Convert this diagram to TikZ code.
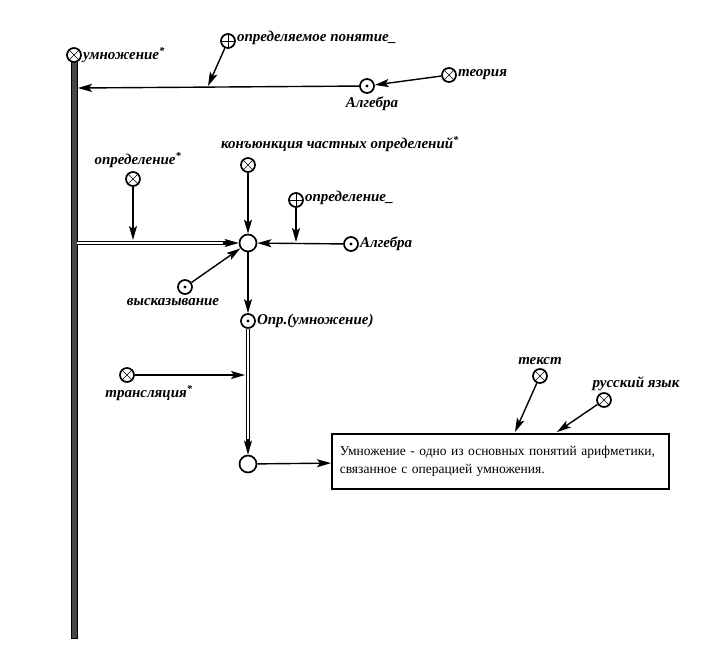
\documentclass[tikz,border=0pt]{standalone}
\usepackage{fontspec}
\setmainfont{Liberation Serif}
\usetikzlibrary{arrows.meta}
\tikzset{
  pt/.style={circle, draw, line width=1.7pt, minimum size=14pt, inner sep=0pt, fill=white},
  cr/.style={pt, path picture={\draw[line width=0.6pt] (path picture bounding box.south west) -- (path picture bounding box.north east) (path picture bounding box.north west) -- (path picture bounding box.south east);}},
  pl/.style={pt, path picture={\draw[line width=0.9pt] (path picture bounding box.north) -- (path picture bounding box.south) (path picture bounding box.west) -- (path picture bounding box.east);}},
  dt/.style={pt, path picture={\fill[black] (path picture bounding box.center) circle (1.6pt);}},
  emp/.style={pt, minimum size=17pt},
  lbl/.style={font=\fontsize{15}{17}\selectfont\bfseries\itshape, inner sep=1pt},
  arr/.style={line width=1.4pt, -{Stealth[length=14pt, width=8pt, inset=3pt]}},
  dbl/.style={double, double distance=2pt, line width=1.2pt, shorten >=12pt},
}
\begin{document}
\begin{tikzpicture}[x=1pt, y=-1pt]
    \useasboundingbox (0,0) rectangle (706,658);
    % The thick bar on the left
    \filldraw[fill=black!72, line width=0.6pt] (71,58) rectangle (77,638);
    \coordinate (b1) at (78,88);
    \coordinate (b2) at (77,243);

    % Top row
    \node[cr, label={[lbl]right:умножение\textsuperscript{*}}] (umn) at (74,55) {};
    \node[pl, label={[lbl, yshift=3pt]right:определяемое понятие\_}] (opp) at (228,41) {};
    \node[dt, label={[lbl, xshift=5pt, yshift=-2pt]below:Алгебра}] (alg1) at (367,86) {};
    \node[cr, label={[lbl]right:теория}] (teo) at (449,75) {};
    \coordinate (m1) at (208,86);

    \draw[arr] (alg1) -- (b1);
    \draw[arr] (opp) -- (m1);
    \draw[arr] (teo) -- (alg1);

    % Middle: the definition node
    \node[emp] (cen) at (248,243) {};
    \node[cr, label={[lbl, xshift=92pt, yshift=4pt]above:конъюнкция частных определений\textsuperscript{*}}] (kon) at (248,165) {};
    \node[cr, label={[lbl, xshift=5pt, yshift=2pt]above:определение\textsuperscript{*}}] (def1) at (133,179) {};
    \node[pl, label={[lbl, yshift=2pt]right:определение\_}] (def2) at (296,200) {};
    \node[dt, label={[lbl]right:Алгебра}] (alg2) at (351,244) {};
    \node[dt, label={[lbl, xshift=-12pt, yshift=-2pt]below:высказывание}] (vys) at (185,287) {};
    \node[dt, label={[lbl]right:Опр.(умножение)}] (opr) at (248,321) {};
    \coordinate (m2) at (133,240);
    \coordinate (m3) at (296,242);

    \draw[dbl] (b2) -- (cen);
    \draw[arr] ([xshift=-16pt]cen.west) -- (cen.west);
    \draw[arr] (def1) -- (m2);
    \draw[arr] (kon) -- (cen);
    \draw[arr] (def2) -- (m3);
    \draw[arr] (alg2) -- (cen);
    \draw[arr] (vys) -- (cen);
    \draw[arr] (cen) -- (opr);

    % Lower part: the text
    \node[emp] (fin) at (248,464) {};
    \node[cr, label={[lbl, xshift=22pt, yshift=-1pt]below:трансляция\textsuperscript{*}}] (tra) at (127,375) {};
    \coordinate (m4) at (245,375);
    \node[draw, line width=1.6pt, anchor=north west, text width=321pt, minimum height=55pt,
          align=left, inner xsep=8pt, inner ysep=9pt, font=\fontsize{13.5}{18}\selectfont] (box) at (331,433)
          {Умножение - одно из основных понятий арифметики,\\связанное с операцией умножения.};
    \node[cr, label={[lbl, yshift=2pt]above:текст}] (tek) at (540,376) {};
    \node[cr, label={[lbl, xshift=32pt]above:русский язык}] (rus) at (604,400) {};
    \coordinate (t1) at (515,432);
    \coordinate (t2) at (557,432);

    \draw[dbl] (opr) -- (fin);
    \draw[arr] ([yshift=16pt]fin.north) -- (fin.north);
    \draw[arr] (tra) -- (m4);
    \draw[arr] (fin) -- (box);
    \draw[arr] (tek) -- (t1);
    \draw[arr] (rus) -- (t2);
\end{tikzpicture}
\end{document}
